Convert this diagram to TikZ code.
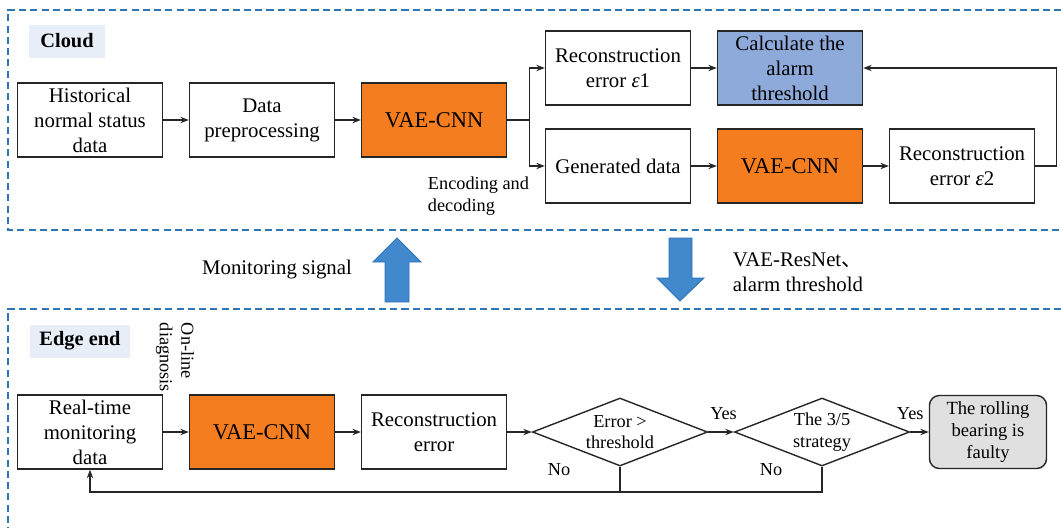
\documentclass[tikz,border=0pt]{standalone}
\usepackage{fontspec}
\setmainfont{Liberation Serif}
\newfontfamily\cjk{Noto Sans CJK SC}
\usetikzlibrary{shapes.geometric,arrows.meta,positioning}
\definecolor{vaeorange}{RGB}{244,125,32}
\definecolor{alarmblue}{RGB}{142,170,219}
\definecolor{zoneblue}{RGB}{46,117,182}
\definecolor{flowblue}{RGB}{65,137,204}
\definecolor{tagbg}{RGB}{232,238,247}
\definecolor{faultgray}{RGB}{224,224,224}

\begin{document}
\begin{tikzpicture}[x=0.025cm, y=-0.025cm, node distance=4.3cm, >={Stealth[length=6pt,width=4.5pt]},
    font=\fontsize{14.8}{17.8}\selectfont,
    box/.style={rectangle, draw=black!85, line width=1pt, fill=white, minimum width=3.625cm, minimum height=1.85cm, inner sep=1pt, align=center},
    vae/.style={box, fill=vaeorange, font=\fontsize{16}{19}\selectfont},
    decision/.style={diamond, draw=black!85, line width=1pt, minimum width=4.375cm, minimum height=1.7cm, inner sep=0pt, aspect=2.6, align=center, font=\fontsize{13}{15.4}\selectfont},
    fault/.style={rectangle, rounded corners=7pt, draw=black!85, line width=1pt, fill=faultgray, minimum width=2.925cm, minimum height=1.825cm, inner sep=1pt, align=center, font=\fontsize{13.2}{15.4}\selectfont},
    small/.style={font=\fontsize{13}{15.4}\selectfont},
    tag/.style={fill=tagbg, minimum height=0.825cm, font=\fontsize{14.5}{17}\selectfont\bfseries},
    zone/.style={draw=zoneblue, line width=1pt, dash pattern=on 5pt off 3pt},
    flow/.style={fill=flowblue, draw=zoneblue, line width=0.6pt},
    edge/.style={->, line width=0.9pt, draw=black!85}]

\useasboundingbox (0,0) rectangle (1061,528);

\draw [zone] (1061,10) -- (8,10) -- (8,230) -- (1061,230);
\draw [zone] (1061,309) -- (8,309) -- (8,528);

\node [tag, minimum width=1.875cm] (cloud) at (67,41) {Cloud};
\node [tag, minimum width=2.5cm] (edgeend) at (80,341) {Edge end};

\node [box] (hist) at (90,120) {Historical\\normal status\\data};
\node [box, right of=hist] (prep) {Data\\preprocessing};
\node [vae, right of=prep] (vae1) {VAE-CNN};
\node [box] (err1) at (618,68) {Reconstruction\\error \textit{ε}1};
\node [box, fill=alarmblue, right of=err1] (alarm) {Calculate the\\alarm\\threshold};
\node [box] (gen) at (618,166) {Generated data};
\node [vae, right of=gen] (vae2) {VAE-CNN};
\node [box, right of=vae2] (err2) {Reconstruction\\error \textit{ε}2};
\node [small, anchor=west, align=left] (codec) at (423,196) {Encoding and\\decoding};

\draw [edge] (hist) -- (prep);
\draw [edge] (prep) -- (vae1);
\draw [line width=0.9pt, draw=black!85] (vae1.east) -- ++(22,0) coordinate (split);
\draw [edge] (split) |- (err1);
\draw [edge] (split) |- (gen);
\draw [edge] (err1) -- (alarm);
\draw [edge] (gen) -- (vae2);
\draw [edge] (vae2) -- (err2);
\draw [edge] (err2.east) -- ++(21,0) |- (alarm);

\fill [flow] (385,302) -- (385,262) -- (373,262) -- (397,238) -- (421,262) -- (409,262) -- (409,302) -- cycle;
\fill [flow] (669,238) -- (669,278) -- (657,278) -- (680,301) -- (704,278) -- (692,278) -- (692,238) -- cycle;
\node (monitor) at (277,270) {Monitoring signal};
\node [anchor=west, align=left] (model) at (728,272) {VAE-ResNet{\cjk 、}\\alarm threshold};

\node [small, rotate=-90, anchor=west, align=left] (online) at (175,318) {On-line\\diagnosis};

\node [box] (rt) at (90,432) {Real-time\\monitoring\\data};
\node [vae, right of=rt] (vae3) {VAE-CNN};
\node [box, right of=vae3] (rec) {Reconstruction\\error};
\node [decision] (d1) at (620,432) {Error >\\threshold};
\node [decision] (d2) at (822,432) {The 3/5\\strategy};
\node [fault] (fault) at (988,432) {The rolling\\bearing is\\faulty};
\coordinate (back) at (0,492);

\draw [edge] (rt) -- (vae3);
\draw [edge] (vae3) -- (rec);
\draw [edge] (rec) -- (d1);
\draw [edge] (d1) -- node[small, above=5pt, pos=0.6] {Yes} (d2);
\draw [edge] (d2) -- node[small, above=5pt, pos=0] {Yes} (fault);
\draw [line width=0.9pt, draw=black!85] (d2.south) -- (d2.south |- back) -- (d1.south |- back);
\draw [edge] (d1.south) -- (d1.south |- back) -| (rt.south);
\node [small] (no1) at (559,470) {No};
\node [small] (no2) at (771,470) {No};

\end{tikzpicture}
\end{document}
